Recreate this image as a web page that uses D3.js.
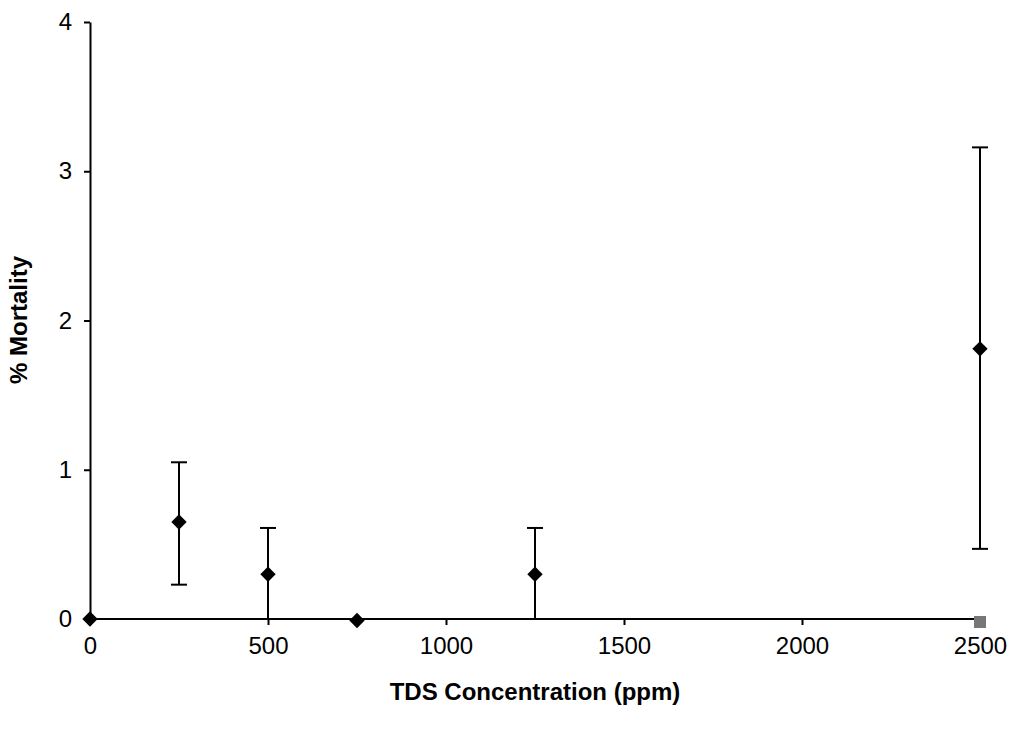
<!DOCTYPE html>
<html><head><meta charset="utf-8">
<script src="https://cdn.jsdelivr.net/npm/d3@7"></script>
<style>body{margin:0;background:#fff}text{font-family:Arial,"Liberation Sans",sans-serif}</style>
</head><body><svg id="c" width="1018" height="734"></svg>
<script>
const conc = [0, 250, 500, 750, 1250, 2500];
const mortality = [0, 0.65, 0.30, -0.01, 0.30, 1.81];
const errLow = [null, 0.23, 0, null, 0, 0.47];
const errHigh = [null, 1.05, 0.61, null, 0.61, 3.16];
const xTicks = [0, 500, 1000, 1500, 2000, 2500];
const yTicks = [0, 1, 2, 3, 4];
const controlX = [2500], controlY = [-0.02];

const svg = d3.select("#c");
const x = d3.scaleLinear().domain([0, 2500]).range([90, 980]);
const y = d3.scaleLinear().domain([0, 4]).range([619, 22]);

const ax = svg.append("g").attr("transform","translate(0,619)")
  .call(d3.axisBottom(x).tickValues(xTicks).tickFormat(d3.format("d")).tickSize(6).tickSizeOuter(0).tickPadding(12));
ax.select(".domain").attr("stroke","#000").attr("stroke-width",2).attr("d","M90,0H985");
ax.selectAll("text").style("font-size","24px").style("font-family","Arial, 'Liberation Sans', sans-serif").attr("fill","#000");
ax.selectAll("line").attr("stroke-width",2);
const ay = svg.append("g").attr("transform","translate(90,0)")
  .call(d3.axisLeft(y).tickValues(yTicks).tickFormat(d3.format("d")).tickSize(6).tickSizeOuter(0).tickPadding(12));
ay.select(".domain").attr("stroke","#000").attr("stroke-width",2);
ay.selectAll("text").style("font-size","24px").style("font-family","Arial, 'Liberation Sans', sans-serif").attr("fill","#000");
ay.selectAll("line").attr("stroke-width",2);

const g = svg.append("g");
conc.forEach((c,i)=>{
  if(errHigh[i]==null) return;
  const cx = x(c);
  g.append("line").attr("x1",cx).attr("x2",cx).attr("y1",y(errLow[i])).attr("y2",y(errHigh[i])).attr("stroke","#000").attr("stroke-width",2);
  g.append("line").attr("x1",cx-8).attr("x2",cx+8).attr("y1",y(errHigh[i])).attr("y2",y(errHigh[i])).attr("stroke","#000").attr("stroke-width",2);
  if(errLow[i]>0) g.append("line").attr("x1",cx-8).attr("x2",cx+8).attr("y1",y(errLow[i])).attr("y2",y(errLow[i])).attr("stroke","#000").attr("stroke-width",2);
});
g.selectAll("path.pt").data(conc).join("path")
  .attr("d", d3.symbol(d3.symbolDiamond2, 150)())
  .attr("transform",(d,i)=>`translate(${x(d)},${y(mortality[i])})`).attr("fill","#000");
g.selectAll("rect.ctl").data(controlX).join("rect")
  .attr("x",d=>x(d)-6).attr("y",(d,i)=>y(controlY[i])-6).attr("width",12).attr("height",12).attr("fill","#777");

svg.append("text").attr("x",535).attr("y",700).attr("text-anchor","middle").style("font-size","24px").attr("font-weight","bold").text("TDS Concentration (ppm)");
svg.append("text").attr("transform","translate(27,320) rotate(-90)").attr("text-anchor","middle").style("font-size","24px").attr("font-weight","bold").text("% Mortality");
</script></body></html>
